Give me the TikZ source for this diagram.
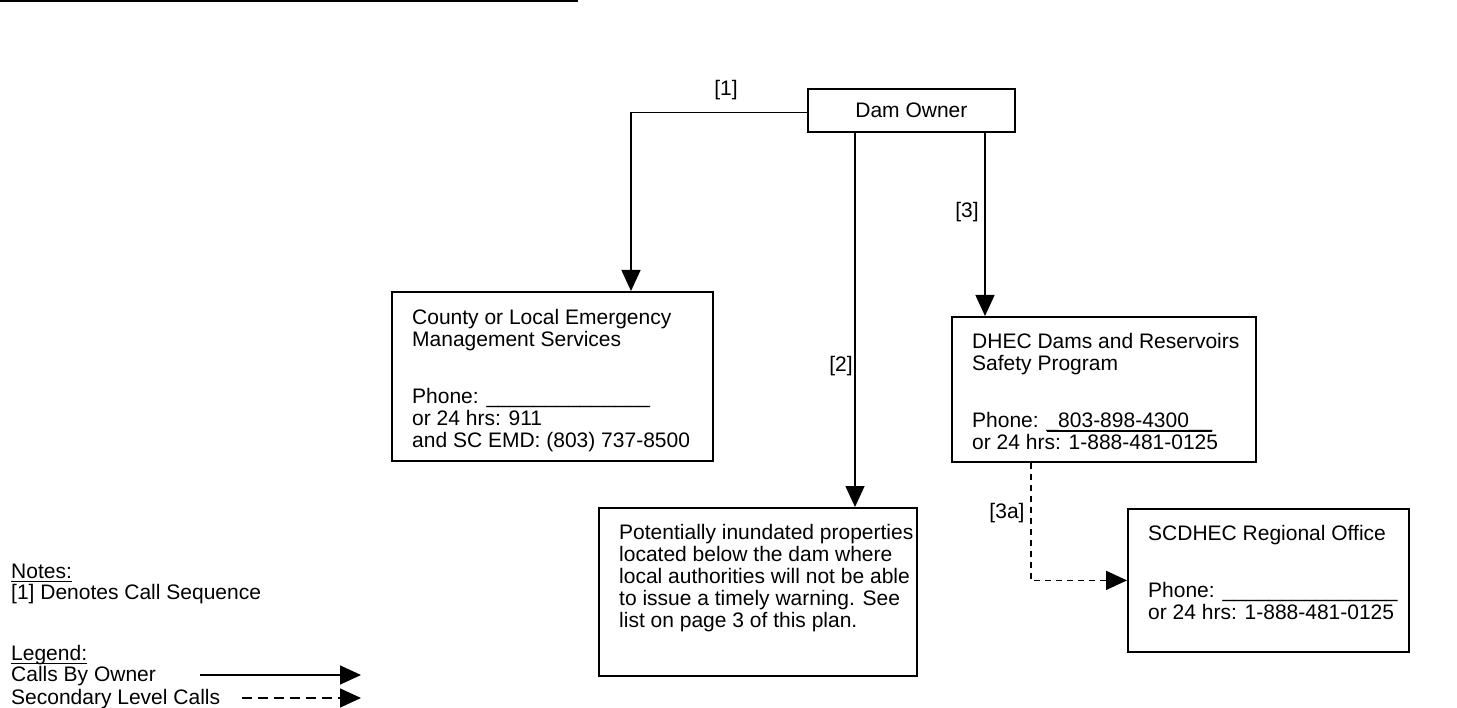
\documentclass[tikz,border=0pt]{standalone}
\usepackage{fontspec}
\setmainfont{Liberation Sans}
\usetikzlibrary{arrows.meta}
\newcommand\ulx[1]{\setbox0\hbox{#1}\rlap{\rule[-4.2pt]{\wd0}{1.3pt}}\box0}
\begin{document}
\begin{tikzpicture}[x=1pt,y=-1pt,
  box/.style={draw, line width=1.8pt, inner sep=0pt, anchor=north west},
  txt/.style={inner sep=0pt, anchor=north west, align=left, font=\fontsize{21}{22}\selectfont},
  btxt/.style={inner sep=0pt, anchor=base west, font=\fontsize{21}{22}\selectfont},
  lbl/.style={inner sep=0pt, font=\fontsize{21}{22}\selectfont},
  conn/.style={line width=1.5pt, -{Triangle[length=21pt,width=19pt]}},
  dconn/.style={conn, dash pattern=on 6pt off 5pt},
  ldconn/.style={conn, dash pattern=on 10pt off 6pt}
]
\useasboundingbox (0,0) rectangle (1457,708);
\fill[white] (0,0) rectangle (1457,708);
\draw[line width=1.5pt] (0,1) -- (578,1);

% boxes
\node[box, minimum width=207pt, minimum height=43pt, font=\fontsize{21}{22}\selectfont] (owner) at (807,88) {Dam Owner};
\node[box, minimum width=321pt, minimum height=169pt] (county) at (391,291) {};
\node[box, minimum width=304pt, minimum height=145pt] (dhec) at (951,316) {};
\node[box, minimum width=318pt, minimum height=168pt] (pot) at (598,507) {};
\node[box, minimum width=281pt, minimum height=143pt] (scd) at (1127,508) {};

% box texts
\node[txt] (countyt) at (412,309) {County or Local Emergency\\Management Services\\[35pt]Phone: \_\_\_\_\_\_\_\_\_\_\_\_\_\_\\or 24 hrs: 911\\and SC EMD: (803) 737-8500};
\node[txt] (dhect) at (972,333) {DHEC Dams and Reservoirs\\Safety Program\\[35pt]Phone: \ulx{\_803-898-4300\_\_}\\or 24 hrs: 1-888-481-0125};
\node[txt] (pott) at (619,524) {Potentially inundated properties\\located below the dam where\\local authorities will not be able\\to issue a timely warning. See\\list on page 3 of this plan.};
\node[txt] (scdt) at (1148,525) {SCDHEC Regional Office\\[35pt]Phone: \_\_\_\_\_\_\_\_\_\_\_\_\_\_\_\\or 24 hrs: 1-888-481-0125};

% connectors
\draw[conn] ([yshift=-2pt]owner.west) -| ([xshift=240pt]county.north west);
\draw[conn] ([xshift=48pt]owner.south west) -- ([xshift=48pt]owner.south west |- pot.north);
\draw[conn] ([xshift=178pt]owner.south west) -- ([xshift=178pt]owner.south west |- dhec.north);
\draw[dconn] ([xshift=80pt]dhec.south west) |- (scd.west);

% labels
\node[lbl] (l1) at (726,90) {[1]};
\node[lbl] (l2) at (841,366) {[2]};
\node[lbl] (l3) at (967,212) {[3]};
\node[lbl] (l3a) at (1007,513) {[3a]};

% notes and legend
\node[btxt] (notes) at (11,578) {\ulx{Notes:}};
\node[btxt] (denotes) at (11,599) {[1] Denotes Call Sequence};
\node[btxt] (legend) at (11,660) {\ulx{Legend:}};
\node[btxt] (calls) at (11,681) {Calls By Owner};
\node[btxt] (second) at (11,704) {Secondary Level Calls};
\coordinate (sa) at (200,675);
\coordinate (sb) at (361,675);
\coordinate (da) at (242,698);
\coordinate (db) at (361,698);
\draw[conn] (sa) -- (sb);
\draw[ldconn] (da) -- (db);
\end{tikzpicture}
\end{document}
